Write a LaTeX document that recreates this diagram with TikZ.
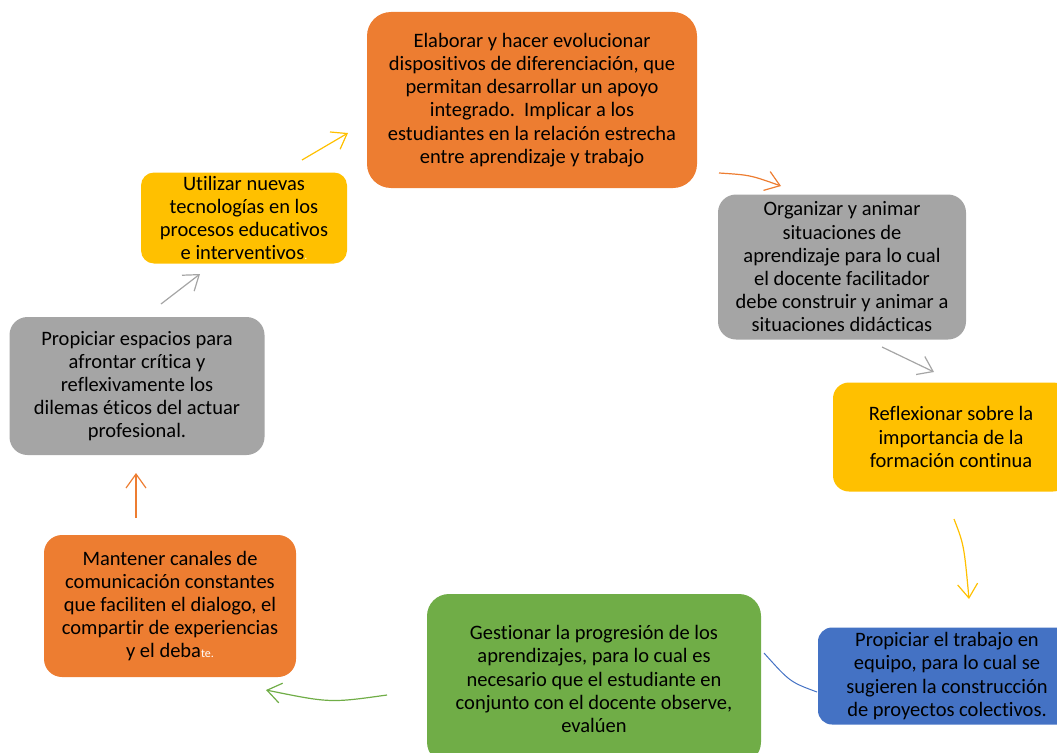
\documentclass[tikz,border=0pt]{standalone}
\usepackage{fontspec}
\setmainfont{Carlito}[Ligatures=NoCommon]
\usetikzlibrary{arrows.meta}
\definecolor{myorange}{RGB}{237,125,49}
\definecolor{mygray}{RGB}{165,165,165}
\definecolor{myyellow}{RGB}{255,192,0}
\definecolor{myblue}{RGB}{68,114,196}
\definecolor{mygreen}{RGB}{112,173,71}
\begin{document}
\begin{tikzpicture}[x=1pt,y=-1pt,outer sep=0pt,
	box/.style={
		rounded corners=18pt,
		align=center,
		inner sep=0pt,
		font={\fontsize{20.5}{23.2}\selectfont}},
	orangeb/.style={box,fill=myorange},
	grayb/.style={box,fill=mygray},
	yellowb/.style={box,fill=myyellow,rounded corners=13pt},
	blueb/.style={box,fill=myblue},
	greenb/.style={box,fill=mygreen,rounded corners=22pt},
	conn/.style={line width=1.2pt,-{Straight Barb[length=14pt,width=20pt]}},
	]
	\useasboundingbox (0,0) rectangle (1057,752);
	% boxes, clockwise from the top
	\node[orangeb,minimum width=330pt,minimum height=176pt,rounded corners=24pt] (ELAB) at (532,100)
		{Elaborar y hacer evolucionar\\ dispositivos de diferenciación, que\\ permitan desarrollar un apoyo\\ integrado.\ \ Implicar a los\\ estudiantes en la relación estrecha\\ entre aprendizaje y trabajo};
	\node[grayb,minimum width=248pt,minimum height=145pt] (ORG) at (842,267)
		{Organizar y animar\\ situaciones de\\ aprendizaje para lo cual\\ el docente facilitador\\ debe construir y animar a\\ situaciones didácticas};
	\node[yellowb,minimum width=236pt,minimum height=109pt,rounded corners=16pt] (REF) at (951,437)
		{Reflexionar sobre la\\ importancia de la\\ formación continua};
	\node[blueb,minimum width=258pt,minimum height=97pt,rounded corners=14pt] (EQU) at (947,676)
		{Propiciar el trabajo en\\ equipo, para lo cual se\\ sugieren la construcción\\ de proyectos colectivos.};
	\node[greenb,minimum width=334pt,minimum height=170pt] (GES) at (594,679)
		{Gestionar la progresión de los\\ aprendizajes, para lo cual es\\ necesario que el estudiante en\\ conjunto con el docente observe,\\ evalúen};
	\node[orangeb,minimum width=252pt,minimum height=142pt] (MAN) at (170,606)
		{Mantener canales de\\ comunicación constantes\\ que faciliten el dialogo, el\\ compartir de experiencias\\ y el deba{\color{white}\fontsize{12}{13}\selectfont te.}};
	\node[grayb,minimum width=255pt,minimum height=138pt] (ESP) at (137,386)
		{Propiciar espacios para\\ afrontar crítica y\\ reflexivamente los\\ dilemas éticos del actuar\\ profesional.};
	\node[yellowb,minimum width=206pt,minimum height=91pt] (TEC) at (244,218)
		{Utilizar nuevas\\ tecnologías en los\\ procesos educativos\\ e interventivos{\color{white}\fontsize{12}{13}\selectfont .}};

	% free arrow ends
	\coordinate (a1s) at (302,160); \coordinate (a1e) at (348,133);
	\coordinate (a2s) at (719,173); \coordinate (a2e) at (781,186);
	\coordinate (a3s) at (882,347); \coordinate (a3e) at (934,372);
	\coordinate (a4s) at (954,519); \coordinate (a4e) at (969,599);
	\coordinate (a5s) at (817,692); \coordinate (a5e) at (764,653);
	\coordinate (a6s) at (387,695); \coordinate (a6e) at (266,690);
	\coordinate (a7s) at (136,518); \coordinate (a7e) at (136,473);
	\coordinate (a8s) at (161,304); \coordinate (a8e) at (200,274);

	\draw[conn,myyellow] (a1s) -- (a1e);
	\draw[conn,myorange] (a2s) .. controls (750,175) .. (a2e);
	\draw[conn,mygray] (a3s) -- (a3e);
	\draw[conn,myyellow] (a4s) .. controls (964,545) .. (a4e);
	\draw[myblue,line width=1pt] (a5s) .. controls (790,682) .. (a5e);
	\draw[conn,mygreen] (a6s) .. controls (330,703) .. (a6e);
	\draw[conn,myorange] (a7s) -- (a7e);
	\draw[conn,mygray] (a8s) -- (a8e);
\end{tikzpicture}
\end{document}
